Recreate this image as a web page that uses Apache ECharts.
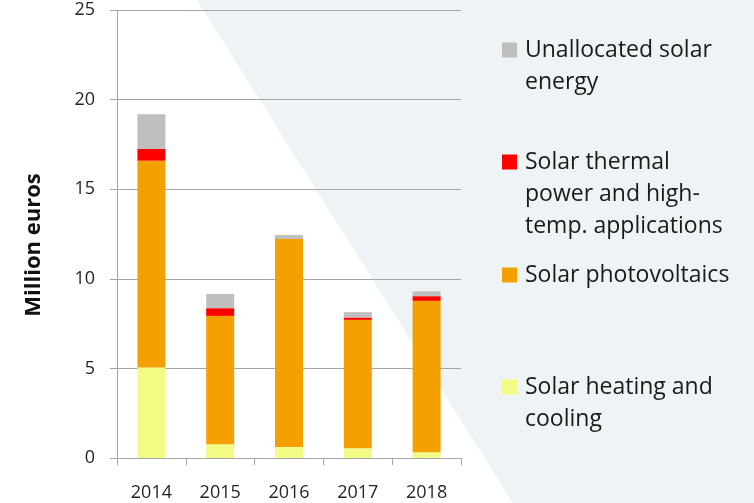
<!DOCTYPE html>
<html>
<head>
<meta charset="utf-8">
<script src="https://cdn.jsdelivr.net/npm/echarts@6/dist/echarts.min.js"></script>
<style>
  html, body { margin: 0; padding: 0; background: #fff; }
  #chart { width: 754px; height: 503px; }
</style>
</head>
<body>
<div id="chart"></div>
<script>
var years = ['2014', '2015', '2016', '2017', '2018'];
var heating = [5.05, 0.77, 0.61, 0.54, 0.32];
var photovoltaics = [11.54, 7.16, 11.61, 7.17, 8.45];
var thermal = [0.66, 0.43, 0, 0.13, 0.26];
var unallocated = [1.93, 0.79, 0.22, 0.30, 0.27];
var yTicks = [0, 5, 10, 15, 20, 25];

var font = 'Open Sans';
var chart = echarts.init(document.getElementById('chart'));

// legend icon sits next to the first line, so pad the label with blank lines on top
function legendAt(name, iconY) {
  var lines = name.split('\n').length;
  var blank = lines - 1;
  var boxH = (lines + blank) * 32;
  return {
    data: [name],
    left: 502,
    top: iconY - boxH / 2,
    padding: 0,
    itemWidth: 15,
    itemHeight: 15,
    icon: 'rect',
    selectedMode: false,
    formatter: function (n) {
      return new Array(blank + 1).join('\n') + n;
    },
    textStyle: {
      fontFamily: font,
      fontSize: 23,
      color: '#1a1a1a',
      lineHeight: 32,
      padding: [0, 0, 0, 3]
    }
  };
}

var option = {
  backgroundColor: '#fff',
  animation: false,
  graphic: [{
    type: 'polygon',
    z: -10,
    silent: true,
    shape: { points: [[197, 0], [754, 0], [754, 503], [513, 503]] },
    style: { fill: '#eef3f6' }
  }],
  grid: { left: 117, right: 293, top: 10, bottom: 45 },
  legend: [
    legendAt('Unallocated solar\nenergy', 50),
    legendAt('Solar thermal\npower and high-\ntemp. applications', 162),
    legendAt('Solar photovoltaics', 275),
    legendAt('Solar heating and\ncooling', 387)
  ],
  xAxis: {
    type: 'category',
    data: years,
    axisLine: { lineStyle: { color: '#a6a6a6', width: 1 } },
    axisTick: { show: true, length: 7, lineStyle: { color: '#a6a6a6' } },
    axisLabel: { fontFamily: font, fontSize: 18, color: '#262626', margin: 26 }
  },
  yAxis: {
    type: 'value',
    min: 0,
    max: yTicks[yTicks.length - 1],
    interval: 5,
    name: 'Million euros',
    nameLocation: 'middle',
    nameGap: 72,
    nameTextStyle: { fontFamily: font, fontSize: 22, fontWeight: 'bold', color: '#111', padding: [0, 22, 0, 0] },
    axisLine: { show: true, lineStyle: { color: '#a6a6a6', width: 1 } },
    axisTick: { show: true, length: 7, lineStyle: { color: '#a6a6a6' } },
    axisLabel: { fontFamily: font, fontSize: 18, color: '#262626', margin: 22 },
    splitLine: { lineStyle: { color: '#a6a6a6', width: 1 } }
  },
  series: [
    { name: 'Solar heating and\ncooling', type: 'bar', stack: 'a', data: heating, barWidth: 28, itemStyle: { color: '#f2fc84' } },
    { name: 'Solar photovoltaics', type: 'bar', stack: 'a', data: photovoltaics, itemStyle: { color: '#f4a000' } },
    { name: 'Solar thermal\npower and high-\ntemp. applications', type: 'bar', stack: 'a', data: thermal, itemStyle: { color: '#ff0000' } },
    { name: 'Unallocated solar\nenergy', type: 'bar', stack: 'a', data: unallocated, itemStyle: { color: '#bfbfbf' } }
  ]
};

chart.setOption(option);
</script>
</body>
</html>
